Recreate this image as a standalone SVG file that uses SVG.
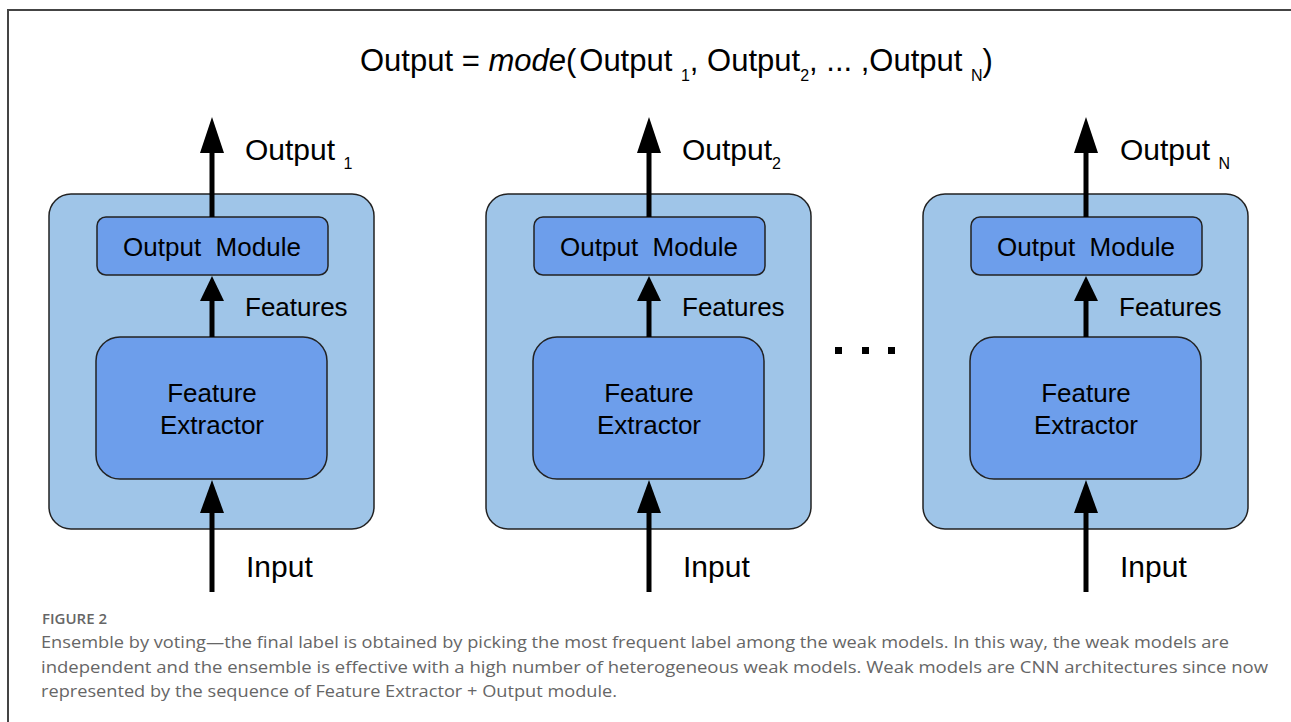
<svg xmlns="http://www.w3.org/2000/svg" width="1291" height="722" viewBox="0 0 1291 722">
<style>
.outer{fill:#9fc5e8;stroke:#222;stroke-width:1.5}
.inner{fill:#6d9eeb;stroke:#222;stroke-width:1.5}
.lbl{font-family:"Liberation Sans",Arial,sans-serif;fill:#000}
.shaft{stroke:#000;stroke-width:5;fill:none}
.head{fill:#000}
.cap{font-family:"Open Sans","Lato",sans-serif;fill:#666}
</style>
<defs>
<g id="panel">
<rect class="outer" x="0" y="0" width="325" height="335" rx="22"/>
<rect class="inner" x="48" y="23" width="231" height="58" rx="9"/>
<rect class="inner" x="47" y="143" width="231" height="142" rx="24"/>
<text class="lbl" x="163" y="62" font-size="26" text-anchor="middle" style="white-space:pre">Output  Module</text>
<text class="lbl" x="163" y="208" font-size="26" text-anchor="middle">Feature</text>
<text class="lbl" x="163" y="240" font-size="26" text-anchor="middle">Extractor</text>
<text class="lbl" x="196" y="122" font-size="26">Features</text>
</g>
</defs>
<rect width="1291" height="722" fill="#fff"/>
<path d="M8 722 V10 H1291" fill="none" stroke="#444" stroke-width="2"/>
<text class="lbl" x="360" y="71" font-size="31"><tspan>Output = </tspan><tspan font-style="italic">mode</tspan><tspan>(</tspan><tspan dx="3">Output </tspan><tspan font-size="16" dy="10">1</tspan><tspan dy="-10">, Output</tspan><tspan font-size="16" dy="10">2</tspan><tspan dy="-10">, ... ,Output </tspan><tspan font-size="16" dy="10">N</tspan><tspan dy="-10">)</tspan></text>
<g id="model1">
<use href="#panel" x="49" y="194"/>
<text class="lbl" x="245" y="160" font-size="30">Output <tspan font-size="16" dy="9">1</tspan></text>
<text class="lbl" x="246" y="577" font-size="30">Input</text>
</g>
<g id="model2">
<use href="#panel" x="486" y="194"/>
<text class="lbl" x="682" y="160" font-size="30">Output<tspan font-size="16" dy="9">2</tspan></text>
<text class="lbl" x="683" y="577" font-size="30">Input</text>
</g>
<g id="model3">
<use href="#panel" x="923" y="194"/>
<text class="lbl" x="1120" y="160" font-size="30">Output <tspan font-size="16" dy="9">N</tspan></text>
<text class="lbl" x="1120" y="577" font-size="30">Input</text>
</g>
<g id="ellipsis" fill="#000">
<rect x="835" y="347" width="7" height="7"/>
<rect x="862" y="347" width="7" height="7"/>
<rect x="888" y="347" width="7" height="7"/>
</g>
<g id="connectors">
<g id="arrows1">
<path class="shaft" d="M212 217 V150"/><path class="head" d="M212 117 L224 153 L200 153 Z"/>
<path class="shaft" d="M212 337 V298"/><path class="head" d="M212 276 L224 301 L200 301 Z"/>
<path class="shaft" d="M212 592 V510"/><path class="head" d="M212 480 L224 513 L200 513 Z"/>
</g>
<g id="arrows2">
<path class="shaft" d="M649 217 V150"/><path class="head" d="M649 117 L661 153 L637 153 Z"/>
<path class="shaft" d="M649 337 V298"/><path class="head" d="M649 276 L661 301 L637 301 Z"/>
<path class="shaft" d="M649 592 V510"/><path class="head" d="M649 480 L661 513 L637 513 Z"/>
</g>
<g id="arrows3">
<path class="shaft" d="M1086 217 V150"/><path class="head" d="M1086 117 L1098 153 L1074 153 Z"/>
<path class="shaft" d="M1086 337 V298"/><path class="head" d="M1086 276 L1098 301 L1074 301 Z"/>
<path class="shaft" d="M1086 592 V510"/><path class="head" d="M1086 480 L1098 513 L1074 513 Z"/>
</g>
</g>
<g id="caption">
<text class="cap" x="42" y="624" font-size="15" font-weight="600">FIGURE 2</text>
<text class="cap" x="41" y="648" font-size="17" textLength="1188" lengthAdjust="spacingAndGlyphs">Ensemble by voting—the final label is obtained by picking the most frequent label among the weak models. In this way, the weak models are</text>
<text class="cap" x="41" y="673" font-size="17" textLength="1227" lengthAdjust="spacingAndGlyphs">independent and the ensemble is effective with a high number of heterogeneous weak models. Weak models are CNN architectures since now</text>
<text class="cap" x="41" y="697" font-size="17" textLength="576" lengthAdjust="spacingAndGlyphs">represented by the sequence of Feature Extractor + Output module.</text>
</g>
</svg>
